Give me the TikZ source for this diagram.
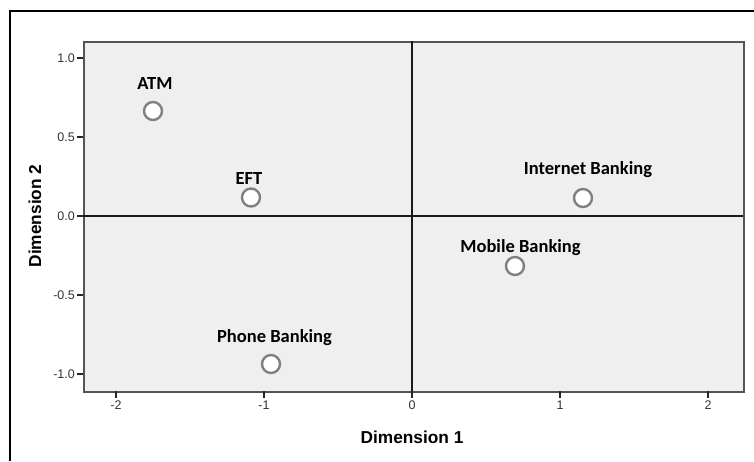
\documentclass[tikz,border=0pt]{standalone}
\usepackage{fontspec}
\setmainfont{Liberation Sans}
\newfontfamily\lblfont{Carlito}
\definecolor{plotbg}{HTML}{EFEFEF}
\definecolor{framegray}{HTML}{555555}
\definecolor{circgray}{HTML}{808080}
\definecolor{ticktext}{HTML}{333333}
\begin{document}
\begin{tikzpicture}[x=1pt,y=-1pt,
  pointmark/.style={circle,draw=circgray,line width=2.4pt,fill=white,minimum size=18pt,inner sep=0pt},
  ptlabel/.style={anchor=base,font=\lblfont\bfseries\fontsize{18.5}{21}\selectfont,inner sep=0pt},
  ticklbl/.style={font=\fontsize{12.5}{14}\selectfont,text=ticktext,inner sep=0pt},
  axtitle/.style={font=\bfseries\fontsize{17.3}{19}\selectfont,inner sep=0pt},
  tickline/.style={line width=1.5pt,draw=black!85},
  zeroline/.style={line width=1.6pt,draw=black!90}]
\useasboundingbox (0,0) rectangle (754,461);
% outer border
\draw[line width=2pt] (10,461) -- (10,11) -- (754,11);
% plot area
\node[draw=framegray,line width=1.8pt,fill=plotbg,minimum width=660pt,minimum height=350pt,inner sep=0pt,anchor=north west] (plot) at (83,41) {};
% zero lines
\coordinate (hzl) at (83,215.8);
\coordinate (hzr) at (743,215.8);
\coordinate (vzt) at (412,41);
\coordinate (vzb) at (412,391);
\draw[zeroline] (hzl) -- (hzr);
\draw[zeroline] (vzt) -- (vzb);
% y ticks
\foreach \yy/\t/\n in {57.8/1.0/ya,136.8/0.5/yb,215.8/0.0/yc,294.8/-0.5/yd,373.8/-1.0/ye}{
  \coordinate (\n a) at (77,\yy);
  \coordinate (\n b) at (83,\yy);
  \draw[tickline] (\n a) -- (\n b);
  \node[ticklbl,anchor=east] (\n l) at (75,\yy) {\t};
}
% x ticks
\foreach \xx/\t/\n in {116/-2/xa,264/-1/xb,412/0/xc,560/1/xd,708/2/xe}{
  \coordinate (\n a) at (\xx,391);
  \coordinate (\n b) at (\xx,398);
  \draw[tickline] (\n a) -- (\n b);
  \node[ticklbl,anchor=north] (\n l) at (\xx,401) {\t};
}
% axis titles
\node[axtitle] (d1) at (412,437) {Dimension 1};
\node[axtitle,rotate=90] (d2) at (35,216) {Dimension 2};
% points
\node[pointmark] (atm) at (153,111) {};
\node[pointmark] (eft) at (251,197.5) {};
\node[pointmark] (inet) at (583,198) {};
\node[pointmark] (mob) at (515,266) {};
\node[pointmark] (phone) at (271,364) {};
% labels
\node[ptlabel] (atml) at (155,89) {ATM};
\node[ptlabel] (eftl) at (249,184) {EFT};
\node[ptlabel] (inetl) at (588,174) {Internet Banking};
\node[ptlabel] (mobl) at (520.5,252) {Mobile Banking};
\node[ptlabel] (phonel) at (274.5,342) {Phone Banking};
\end{tikzpicture}
\end{document}
